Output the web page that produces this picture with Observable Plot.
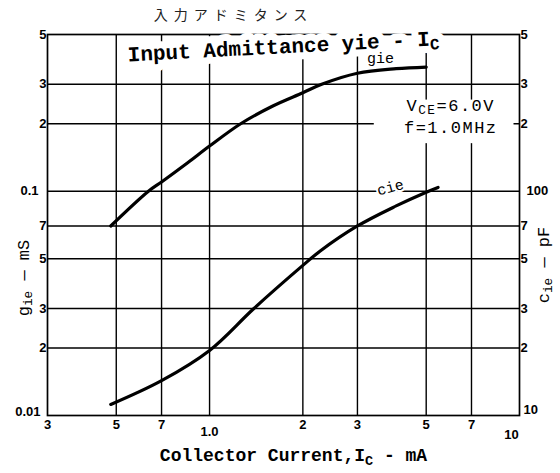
<!DOCTYPE html>
<html><head><meta charset="utf-8">
<script src="https://cdn.jsdelivr.net/npm/d3@7"></script>
<script src="https://cdn.jsdelivr.net/npm/@observablehq/plot@0.6"></script>
<style>body{margin:0;background:#fff}</style>
</head><body><div id="chart"></div>
<script>
// ---- data ----
const xTicks = [0.3, 0.5, 0.7, 1, 2, 3, 5, 7, 10];
const xTickLabels = ["3", "5", "7", "1.0", "2", "3", "5", "7", "10"];
const yTicks = [0.01, 0.02, 0.03, 0.05, 0.07, 0.1, 0.2, 0.3, 0.5];
const yLeftLabels = ["0.01", "2", "3", "5", "7", "0.1", "2", "3", "5"];
const yRightLabels = ["10", "2", "3", "5", "7", "100", "2", "3", "5"];

// g_ie (mS) vs Ic (mA)
const gieIc = [0.48, 0.635, 0.7, 0.85, 1.0, 1.26, 1.6, 2, 2.3, 3, 4, 5];
const gieMS = [0.07, 0.1, 0.11, 0.134, 0.159, 0.2, 0.24, 0.275, 0.3, 0.336, 0.352, 0.358];
// c_ie (pF) vs Ic (mA)
const cieIc = [0.48, 0.7, 1.0, 1.39, 2, 2.27, 3, 4, 5, 5.46];
const ciePF = [11.2, 14.3, 19.5, 30, 46.7, 54, 70, 86, 99, 104];

const titleJa = "入力アドミタンス";
const title = "Input Admittance yie - I_{C}";
const xLabel = "Collector Current,I_{C} - mA";
const yLeftLabel = "g_{ie} — mS";
const yRightLabel = "c_{ie} — pF";
const conditions = ["V_{CE}=6.0V", "f=1.0MHz"];
// white background box of the conditions note (Ic range, y range in mS units)
const noteBox = [{x1: 3.4, x2: 9.6, y1: 0.163, y2: 0.255}];

// ---- derived tables ----
const gieData = gieIc.map((ic, i) => ({ic, v: gieMS[i]}));
const cieData = cieIc.map((ic, i) => ({ic, v: ciePF[i] / 1000})); // right axis: pF = 1000 × left units
const xTickData = xTicks.map((t, i) => ({t, label: xTickLabels[i]}));
const yLLab = new Map(yTicks.map((t, i) => [t, yLeftLabels[i]]));
const yRLab = new Map(yTicks.map((t, i) => [t, yRightLabels[i]]));

const mono = "Liberation Mono";
const tickFont = {fontFamily: "Liberation Sans", fontSize: 13, fontWeight: "bold"};

// text with a white knock-out halo drawn as a separate mark underneath
function haloText(data, opts, halo) {
  return [
    Plot.text(data, {...opts, fill: "white", stroke: "white", strokeWidth: halo}),
    Plot.text(data, {...opts, fill: "black"})
  ];
}

const chart = Plot.plot({
  width: 560, height: 473,
  marginLeft: 47, marginRight: 41, marginTop: 34, marginBottom: 58,
  style: {background: "white", color: "black", fontFamily: "Liberation Sans", fontSize: "13px", fontWeight: "bold"},
  x: {type: "log", domain: [0.3, 10], axis: null},
  y: {type: "log", domain: [0.01, 0.5], axis: null},
  marks: [
    Plot.ruleX(xTicks.slice(1, -1), {stroke: "black", strokeWidth: 1.4}),
    Plot.ruleY(yTicks.slice(1, -1), {stroke: "black", strokeWidth: 1.4}),
    Plot.rect(noteBox, {x1: "x1", x2: "x2", y1: "y1", y2: "y2", fill: "white"}),
    Plot.frame({stroke: "black", strokeWidth: 1.7}),
    Plot.line(gieData, {x: "ic", y: "v", curve: "catmull-rom", stroke: "black", strokeWidth: 3.2}),
    Plot.line(cieData, {x: "ic", y: "v", curve: "catmull-rom", stroke: "black", strokeWidth: 3.2}),
    // bottom tick labels
    Plot.text(xTickData.filter(d => d.t !== 1 && d.t !== 10), {x: "t", text: "label", frameAnchor: "bottom", lineAnchor: "top", dy: 4, fill: "black", ...tickFont}),
    Plot.text(xTickData.filter(d => d.t === 1), {x: "t", text: "label", frameAnchor: "bottom", lineAnchor: "top", dy: 11, fill: "black", ...tickFont}),
    Plot.text(xTickData.filter(d => d.t === 10), {x: "t", text: "label", frameAnchor: "bottom", lineAnchor: "top", dy: 14, dx: -8, fill: "black", ...tickFont}),
    // left axis
    Plot.axisY(yTicks.filter(t => t !== 0.1 && t !== 0.01), {anchor: "left", tickSize: 0, tickPadding: 1, tickFormat: d => yLLab.get(d), label: null, ...tickFont}),
    Plot.axisY([0.1], {anchor: "left", tickSize: 0, tickPadding: 9, tickFormat: d => yLLab.get(d), label: null, ...tickFont}),
    Plot.axisY([0.01], {anchor: "left", tickSize: 0, tickPadding: 7, dy: -4, tickFormat: d => yLLab.get(d), label: null, ...tickFont}),
    // right axis (pF)
    Plot.axisY(yTicks.filter(t => t !== 0.1 && t !== 0.01), {anchor: "right", tickSize: 0, tickPadding: 1, tickFormat: d => yRLab.get(d), label: null, ...tickFont}),
    Plot.axisY([0.1], {anchor: "right", tickSize: 0, tickPadding: 7, tickFormat: d => yRLab.get(d), label: null, ...tickFont}),
    Plot.axisY([0.01], {anchor: "right", tickSize: 0, tickPadding: 4, dy: -6, tickFormat: d => yRLab.get(d), label: null, ...tickFont}),
    // titles
    Plot.text([titleJa], {text: d => d, frameAnchor: "top", textAnchor: "middle", lineAnchor: "middle", dx: -50, dy: -19, fontFamily: "Noto Sans CJK JP", fontSize: 14, fontWeight: "normal", fill: "#222"}),
    ...haloText([title], {text: d => d, frameAnchor: "top", textAnchor: "middle", lineAnchor: "middle", dx: 0, dy: 12, rotate: -3, fontFamily: mono, fontSize: 21, fontWeight: "bold"}, 14),
    Plot.text([xLabel], {text: d => d, frameAnchor: "bottom", textAnchor: "middle", lineAnchor: "middle", dx: 10, dy: 40, fontFamily: mono, fontSize: 18, fontWeight: "bold", fill: "black"}),
    Plot.text([yLeftLabel], {text: d => d, frameAnchor: "left", textAnchor: "middle", lineAnchor: "middle", dx: -24, dy: 53, rotate: -90, fontFamily: mono, fontSize: 17, fontWeight: "normal", fill: "black"}),
    Plot.text([yRightLabel], {text: d => d, frameAnchor: "right", textAnchor: "middle", lineAnchor: "middle", dx: 24, dy: 40, rotate: -90, fontFamily: mono, fontSize: 17, fontWeight: "normal", fill: "black"}),
    // curve labels and conditions
    ...haloText(["gie"], {text: d => d, x: 3.56, y: 0.392, fontFamily: mono, fontSize: 15, fontWeight: "normal"}, 4),
    ...haloText(["cie"], {text: d => d, x: 3.83, y: 0.104, rotate: -15, fontFamily: mono, fontSize: 15, fontWeight: "normal"}, 4),
    Plot.text([conditions[0]], {text: d => d, x: 6.0, y: 0.241, fontFamily: mono, fontSize: 17, fontWeight: "normal", fill: "black"}),
    Plot.text([conditions[1]], {text: d => d, x: 6.0, y: 0.192, fontFamily: mono, fontSize: 17, fontWeight: "normal", fill: "black"})
  ]
});

// subscripts: "_{...}" -> tspans
const ns = "http://www.w3.org/2000/svg";
d3.select(chart).selectAll("text").each(function () {
  const t = this.textContent;
  if (t === titleJa) this.setAttribute("letter-spacing", "6");
  if (t === conditions[0] || t === conditions[1]) this.setAttribute("letter-spacing", "1.5");
  if (!t.includes("_{")) return;
  const parts = t.split(/(_\{[^}]*\})/);
  this.textContent = "";
  for (const p of parts) {
    if (!p) continue;
    const ts = document.createElementNS(ns, "tspan");
    if (p.startsWith("_{")) {
      ts.textContent = p.slice(2, -1);
      ts.setAttribute("baseline-shift", "-25%");
      ts.setAttribute("font-size", "75%");
    } else ts.textContent = p;
    this.appendChild(ts);
  }
});

document.getElementById("chart").appendChild(chart);
</script>
</body></html>
